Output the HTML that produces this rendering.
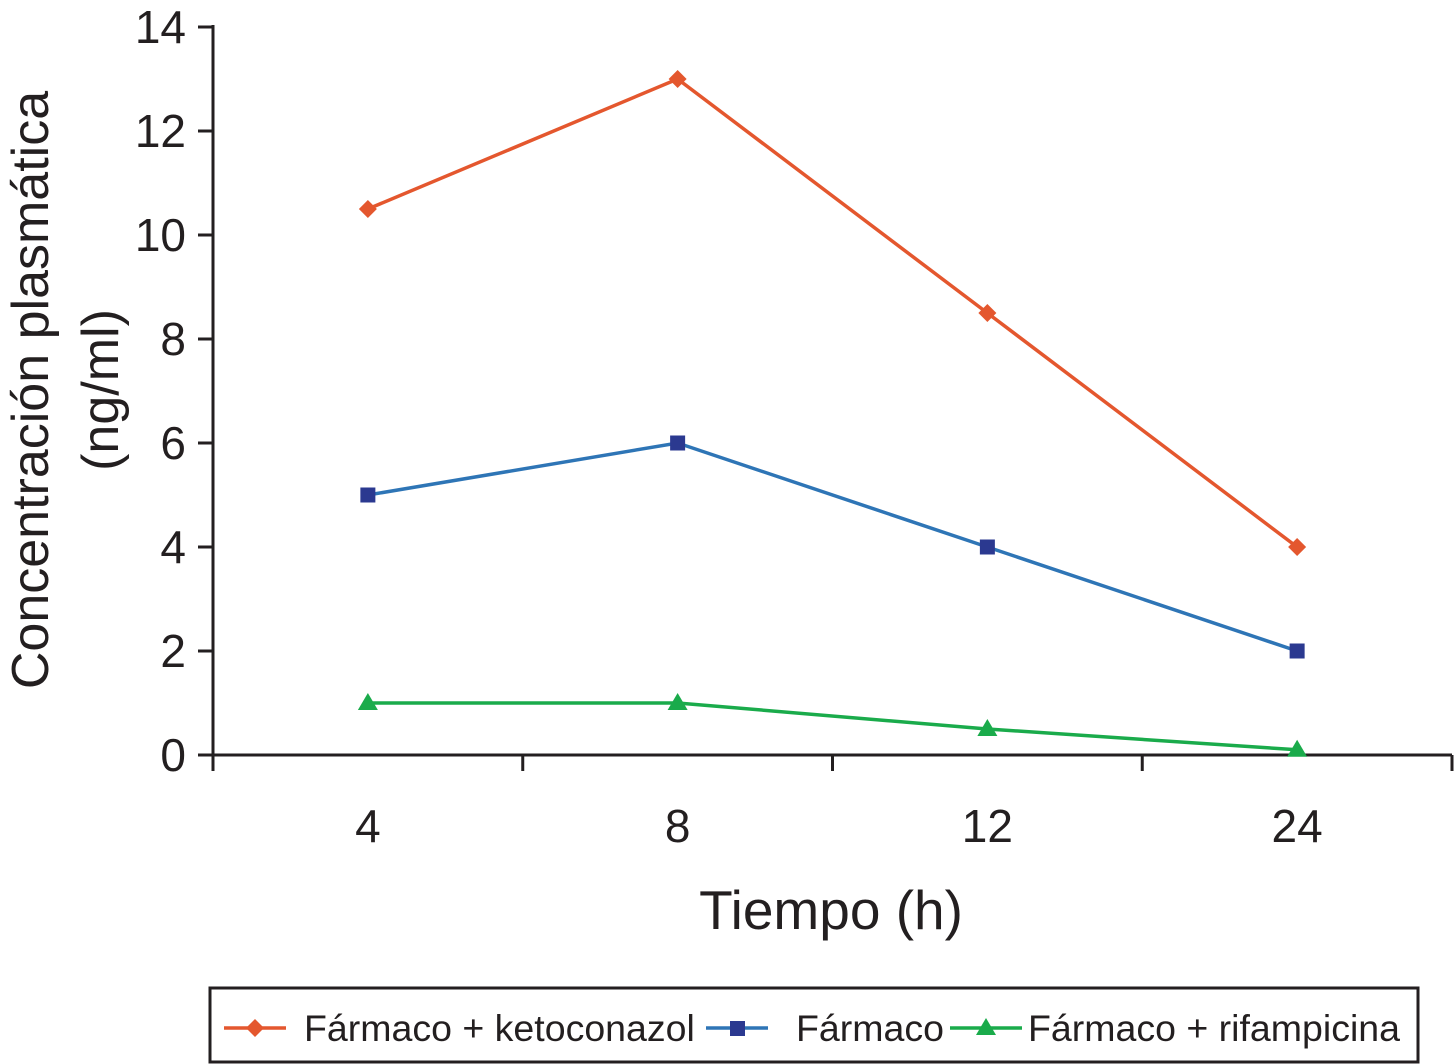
<!DOCTYPE html>
<html><head><meta charset="utf-8"><style>
html,body{margin:0;padding:0;background:#fff;}
svg{display:block;font-family:"Liberation Sans",sans-serif;}
</style></head><body>
<svg id="chart" width="1455" height="1064" viewBox="0 0 1455 1064" xmlns="http://www.w3.org/2000/svg">
<g id="axes"></g>
<g id="series"></g>
<text transform="translate(48,390) rotate(-90)" text-anchor="middle" font-size="52" fill="#231f20">Concentración plasmática</text>
<text transform="translate(118,390) rotate(-90)" text-anchor="middle" font-size="52" fill="#231f20">(ng/ml)</text>
<text x="831" y="929" text-anchor="middle" font-size="55" fill="#231f20">Tiempo (h)</text>
<g>
<rect x="210" y="988" width="1208" height="74" fill="#fff" stroke="#231f20" stroke-width="3"/>
<g>
<line x1="224" y1="1028" x2="286" y2="1028" stroke="#e4572e" stroke-width="3.5"/>
<path d="M255 1019 L264 1028 L255 1037 L246 1028Z" fill="#e4572e"/>
<text x="304" y="1041" font-size="37.5" fill="#231f20">Fármaco + ketoconazol</text>
</g>
<g>
<line x1="706" y1="1028" x2="768" y2="1028" stroke="#2e75b6" stroke-width="3.5"/>
<rect x="730" y="1021" width="15" height="15" fill="#2b3990"/>
<text x="796" y="1041" font-size="37.5" fill="#231f20">Fármaco</text>
</g>
<g>
<line x1="950" y1="1028" x2="1022" y2="1028" stroke="#1aab4b" stroke-width="3.5"/>
<path d="M986 1018 L996 1035 L976 1035Z" fill="#1aab4b"/>
<text x="1028" y="1041" font-size="37.5" fill="#231f20">Fármaco + rifampicina</text>
</g>
</g>
</svg>
<script>
const categories = ["4","8","12","24"];
const ketoconazol = [10.5, 13, 8.5, 4];
const farmaco = [5, 6, 4, 2];
const rifampicina = [1, 1, 0.5, 0.1];
const yTicks = [0,2,4,6,8,10,12,14];

const NS="http://www.w3.org/2000/svg";
const x0=213, x1=1452, y0=755, y1=27, yMax=14;
const band=(x1-x0)/categories.length;
const xs=i=>x0+band*(i+0.5);
const ys=v=>y0-(v/yMax)*(y0-y1);
function mk(tag,attrs,parent){const e=document.createElementNS(NS,tag);for(const k in attrs)e.setAttribute(k,attrs[k]);parent.appendChild(e);return e;}
const axes=document.getElementById('axes');
let e=mk('line',{x1:x0,y1:y1-2,x2:x0,y2:770,stroke:'#231f20','stroke-width':3},axes);


e=mk('line',{x1:x0-15,y1:y0,x2:x1,y2:y0,stroke:'#231f20','stroke-width':3},axes);


yTicks.forEach(v=>{
  const y=ys(v);
  const t=mk('line',{x1:x0-15,y1:y,x2:x0,y2:y,stroke:'#231f20','stroke-width':3},axes);
  
  
  const l=mk('text',{x:186,y:y+16,'text-anchor':'end','font-size':46,fill:'#231f20'},axes);
  l.textContent=v;
  
  
});
for(let i=0;i<=categories.length;i++){
  const x=x0+band*i;
  const t=mk('line',{x1:x,y1:y0,x2:x,y2:771,stroke:'#231f20','stroke-width':3},axes);
  
  
}
categories.forEach((c,i)=>{
  const l=mk('text',{x:xs(i),y:842,'text-anchor':'middle','font-size':46,fill:'#231f20'},axes);
  l.textContent=c;
  
  
});
const sg=document.getElementById('series');
function series(vals,color,mcolor,shape,name){
  const g=mk('g',{},sg);
  
  
  const pl=mk('polyline',{points:vals.map((v,i)=>xs(i)+','+ys(v)).join(' '),fill:'none',stroke:color,'stroke-width':3.5},g);
  
  
  vals.forEach((v,i)=>{
    const x=xs(i),y=ys(v);let m;
    if(shape==='d')m=mk('path',{d:`M${x} ${y-9}L${x+9} ${y}L${x} ${y+9}L${x-9} ${y}Z`,fill:mcolor},g);
    else if(shape==='s')m=mk('rect',{x:x-7.5,y:y-7.5,width:15,height:15,fill:mcolor},g);
    else m=mk('path',{d:`M${x} ${y-10}L${x+10} ${y+7}L${x-10} ${y+7}Z`,fill:mcolor},g);
    
    
  });
}
series(ketoconazol,'#e4572e','#e4572e','d','series-ketoconazol');
series(farmaco,'#2e75b6','#2b3990','s','series-farmaco');
series(rifampicina,'#1aab4b','#1aab4b','t','series-rifampicina');
</script>
</body></html>
